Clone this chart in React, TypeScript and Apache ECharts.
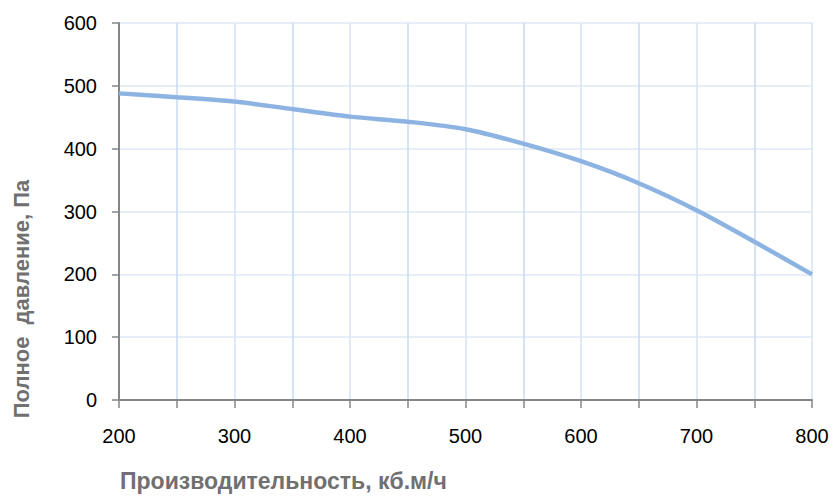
import React, { useEffect, useRef } from "react";
import * as echarts from "echarts";

const airflow = [200, 250, 300, 350, 400, 450, 500, 550, 600, 650, 700, 750, 800];
const pressure = [488, 482, 475, 463, 451, 443, 431, 408, 380, 345, 302, 252, 200];
const xTitle = "Производительность, кб.м/ч";
const yTitle = "Полное  давление, Па";

export default function App() {
  const ref = useRef<HTMLDivElement>(null);
  useEffect(() => {
    const chart = echarts.init(ref.current!, null, { renderer: "svg" });
    const font = "Liberation Sans, Arial, sans-serif";
    chart.setOption({
      animation: false,
      backgroundColor: "#ffffff",
      grid: { left: 119, right: 21, top: 23, bottom: 98, containLabel: false },
      xAxis: {
        type: "value",
        min: 200,
        max: 800,
        interval: 50,
        axisLine: { show: true, lineStyle: { color: "#868686", width: 2 } },
        axisTick: { show: true, length: 8, inside: false, lineStyle: { color: "#868686", width: 1.5 } },
        axisLabel: {
          color: "#000",
          fontFamily: font,
          fontSize: 20,
          margin: 26,
          formatter: (v: number) => (v % 100 === 0 ? String(v) : ""),
        },
        splitLine: { show: true, lineStyle: { color: ["#d6e3f3", "#c8daf0"], width: 1.5 } },
      },
      yAxis: {
        type: "value",
        min: 0,
        max: 600,
        interval: 100,
        axisLine: { show: true, lineStyle: { color: "#868686", width: 2 } },
        axisTick: { show: true, length: 7, lineStyle: { color: "#868686", width: 1.5 } },
        axisLabel: { color: "#000", fontFamily: font, fontSize: 20, margin: 22 },
        splitLine: { show: true, lineStyle: { color: "#dfe8f4", width: 1.5 } },
      },
      graphic: [
        {
          type: "text",
          x: 120,
          y: 481,
          style: {
            text: xTitle,
            fill: "#707070",
            font: `bold 23px ${font}`,
            verticalAlign: "middle",
          },
        },
        {
          type: "text",
          x: 21,
          y: 299,
          rotation: Math.PI / 2,
          style: {
            text: yTitle,
            fill: "#707070",
            font: `bold 22px ${font}`,
            align: "center",
            verticalAlign: "middle",
          },
        },
      ],
      series: [
        {
          type: "line",
          data: airflow.map((x, i) => [x, pressure[i]]),
          smooth: 0.3,
          showSymbol: false,
          lineStyle: { color: "#8db3e2", width: 4.5 },
        },
      ],
    });
    return () => chart.dispose();
  }, []);
  return (
    <div
      ref={ref}
      style={{ position: "fixed", left: 0, top: 0, width: 833, height: 498 }}
    />
  );
}
